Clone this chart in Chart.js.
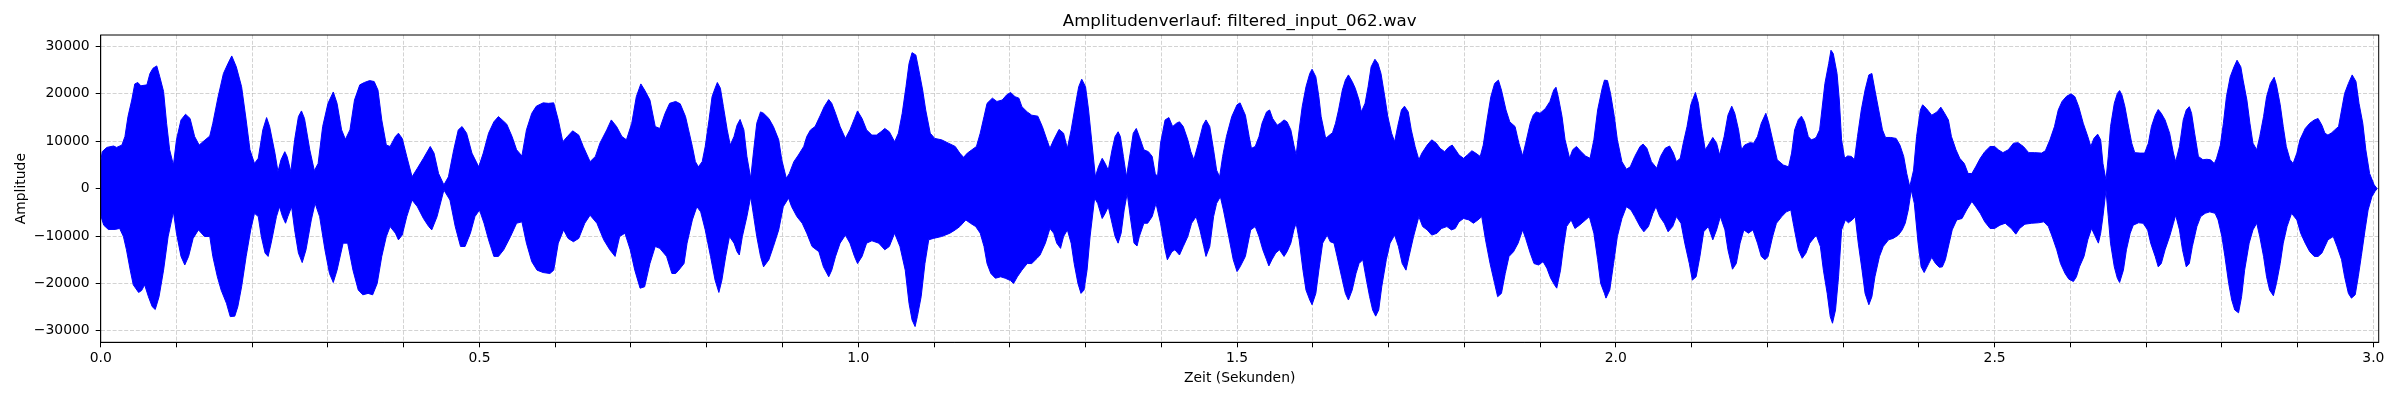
<!DOCTYPE html>
<html>
<head>
<meta charset="utf-8">
<title>Amplitudenverlauf</title>
<script src="https://cdn.jsdelivr.net/npm/chart.js@4.4.0/dist/chart.umd.min.js"></script>
<style>
    html, body { margin: 0; padding: 0; background: #fff; }
    canvas { display: block; }
</style>
</head>
<body>
<canvas id="waveChart" width="2400" height="400"></canvas>
<script>
// Hüllkurve des Signals (Zeit in s, Amplitude)

// obere Hüllkurve
const upperTimes = [
    0.000, 0.002, 0.008, 0.017, 0.021, 0.028, 0.032, 0.036, 0.041, 0.045, 0.049, 0.053, 0.061, 0.065, 0.069, 0.074, 0.078, 0.083, 0.087, 0.091,
    0.096, 0.100, 0.106, 0.112, 0.118, 0.124, 0.130, 0.135, 0.144, 0.148, 0.155, 0.162, 0.168, 0.173, 0.179, 0.186, 0.192, 0.197, 0.203, 0.208,
    0.214, 0.219, 0.223, 0.230, 0.234, 0.238, 0.243, 0.246, 0.251, 0.256, 0.261, 0.265, 0.269, 0.276, 0.282, 0.287, 0.293, 0.300, 0.307, 0.312,
    0.318, 0.323, 0.329, 0.335, 0.342, 0.348, 0.355, 0.361, 0.366, 0.371, 0.377,
    0.382, 0.389, 0.393, 0.398, 0.404, 0.411, 0.418, 0.426, 0.435, 0.440, 0.446, 0.453, 0.459, 0.466, 0.472, 0.477, 0.483, 0.490, 0.499, 0.505,
    0.512, 0.519, 0.525, 0.530, 0.536, 0.543, 0.549, 0.556, 0.562, 0.569, 0.575, 0.584, 0.591, 0.598, 0.604, 0.610, 0.616, 0.623, 0.631, 0.637,
    0.646, 0.653, 0.659, 0.668, 0.674, 0.681, 0.688, 0.694, 0.701, 0.707, 0.713, 0.718, 0.725, 0.732, 0.738, 0.745, 0.751,
    0.759, 0.765, 0.772, 0.776, 0.781, 0.785, 0.789, 0.794, 0.798, 0.803, 0.807, 0.811, 0.814, 0.818, 0.822, 0.827, 0.831, 0.836, 0.840, 0.844,
    0.849, 0.853, 0.858, 0.862, 0.866, 0.871, 0.875, 0.882, 0.888, 0.895, 0.899, 0.905, 0.909, 0.915, 0.921, 0.928, 0.932, 0.937, 0.943, 0.950,
    0.955, 0.961, 0.965, 0.970, 0.976, 0.983, 0.989, 0.995, 0.999, 1.005, 1.011, 1.018, 1.024, 1.030, 1.035, 1.041, 1.048, 1.053, 1.058, 1.063,
    1.067, 1.071, 1.076, 1.080, 1.085, 1.089, 1.095, 1.101, 1.110, 1.119, 1.128, 1.134,
    1.139, 1.144, 1.150, 1.156, 1.161, 1.166, 1.170, 1.177, 1.183, 1.190, 1.196, 1.201, 1.207, 1.212, 1.216, 1.223, 1.229, 1.237, 1.243, 1.249,
    1.253, 1.258, 1.265, 1.271, 1.276, 1.281, 1.287, 1.291, 1.295, 1.300, 1.304, 1.308, 1.313, 1.317, 1.322, 1.326, 1.330, 1.335, 1.339, 1.343,
    1.346, 1.350, 1.354, 1.359, 1.363, 1.367, 1.371, 1.377, 1.383, 1.388, 1.392, 1.395, 1.399, 1.405, 1.410, 1.415, 1.420, 1.424, 1.429, 1.435,
    1.439, 1.443, 1.449, 1.455, 1.459, 1.464, 1.469, 1.473, 1.477, 1.481, 1.486, 1.493, 1.500, 1.504, 1.508, 1.511,
    1.516, 1.519, 1.524, 1.529, 1.533, 1.539, 1.543, 1.547, 1.553, 1.557, 1.562, 1.566, 1.571, 1.575, 1.578, 1.582, 1.586, 1.591, 1.596, 1.599,
    1.604, 1.608, 1.611, 1.617, 1.622, 1.626, 1.630, 1.634, 1.639, 1.643, 1.647, 1.652, 1.656, 1.661, 1.664, 1.669, 1.673, 1.677, 1.682, 1.686,
    1.690, 1.695, 1.699, 1.704, 1.708, 1.712, 1.717, 1.721, 1.726, 1.730, 1.735, 1.740, 1.744, 1.751, 1.757, 1.763, 1.768, 1.774, 1.779, 1.784,
    1.788, 1.793, 1.799, 1.804, 1.810, 1.815, 1.821, 1.825, 1.830, 1.835, 1.840, 1.845, 1.849, 1.855, 1.860, 1.867, 1.872, 1.877, 1.881, 1.887,
    1.891, 1.895, 1.900, 1.907, 1.913, 1.918, 1.921, 1.924, 1.929, 1.933, 1.939, 1.943, 1.948, 1.953, 1.960, 1.966, 1.971, 1.976, 1.982, 1.985,
    1.989, 1.993, 1.998, 2.002, 2.008, 2.014, 2.019, 2.025, 2.032, 2.036, 2.041, 2.047, 2.054, 2.059, 2.065, 2.071, 2.076, 2.080, 2.085, 2.089,
    2.094, 2.099, 2.105, 2.109, 2.113, 2.118, 2.122, 2.128, 2.133, 2.137, 2.143, 2.148, 2.153, 2.157, 2.162, 2.166, 2.170, 2.177, 2.182, 2.187,
    2.192, 2.198, 2.202, 2.208, 2.213, 2.221, 2.228, 2.232, 2.236, 2.241, 2.245, 2.249, 2.254, 2.258, 2.263,
    2.265, 2.269, 2.272, 2.276, 2.281, 2.284, 2.287, 2.292, 2.295, 2.298, 2.302, 2.306, 2.311, 2.315, 2.319, 2.324, 2.329, 2.334, 2.338, 2.342,
    2.347, 2.352, 2.356, 2.363, 2.370, 2.375, 2.380, 2.384, 2.388, 2.393, 2.397, 2.402, 2.405, 2.410, 2.417, 2.424, 2.429, 2.434, 2.439, 2.443,
    2.449, 2.454, 2.460, 2.465, 2.470, 2.475, 2.481, 2.487, 2.494, 2.500, 2.505, 2.511, 2.518, 2.525, 2.531, 2.538, 2.545, 2.553, 2.562, 2.567,
    2.573, 2.579, 2.584, 2.589, 2.595, 2.601, 2.606, 2.611, 2.617, 2.623, 2.627, 2.631, 2.636,
    2.640, 2.643, 2.647, 2.650, 2.653, 2.658, 2.662, 2.665, 2.668, 2.672, 2.676, 2.681, 2.685, 2.692, 2.698, 2.703, 2.707, 2.712, 2.716, 2.720,
    2.725, 2.731, 2.736, 2.739, 2.744, 2.749, 2.753, 2.757, 2.760, 2.764, 2.769, 2.775, 2.780, 2.785, 2.790, 2.793, 2.798, 2.802, 2.806, 2.811,
    2.816, 2.820, 2.825, 2.828, 2.833, 2.837, 2.841, 2.846, 2.850, 2.855, 2.859, 2.864, 2.869, 2.872, 2.877, 2.881, 2.885, 2.890, 2.894, 2.899,
    2.903, 2.910, 2.916, 2.922, 2.927, 2.932, 2.936, 2.940, 2.945, 2.949, 2.954, 2.958, 2.962, 2.967, 2.972, 2.977, 2.981, 2.986, 2.990, 2.995,
    3.001, 3.005
];
const upperValues = [
    5700, 7800, 8700, 9000, 8700, 9200, 11000, 15200, 18700, 22100, 22400, 21700, 21900, 24300, 25400, 25900, 23600, 20500, 13800, 8200,
    5000, 10300, 14500, 15700, 14800, 11000, 9200, 9900, 11100, 13800, 19400, 24300, 26400, 28000, 25700, 21500, 14500, 8200, 5300, 6400,
    12400, 15000, 13100, 7500, 3600, 6100, 7800, 6800, 3600, 10300, 15200, 16400, 14800, 8200, 3800, 5300, 13100, 18000, 20400, 18000,
    12400, 10400, 12400, 18700, 21900, 22400, 22800, 22600, 20800, 14500, 9200,
    8900, 11000, 11700, 10600, 6800, 2500, 4300, 6400, 8900, 7500, 3200, 800, 2500, 8200, 12400, 13100, 11700, 7500, 4600, 7500,
    11700, 14100, 15200, 14500, 13600, 11000, 8200, 6900, 12400, 15900, 17400, 18100, 18000, 18100, 14500, 9900, 11000, 12200, 11300, 8900,
    5700, 6800, 9600, 12400, 14500, 13100, 11000, 10300, 13800, 19400, 22100, 20800, 18700, 13100, 12700, 15900, 18000,
    18400, 17900, 15200, 12400, 8900, 5700, 4600, 5700, 8900, 14500, 19400, 21200, 22400, 21200, 17300, 12400, 9200, 11000, 13400, 14600,
    12400, 6800, 2200, 8200, 13800, 16200, 15900, 14800, 13100, 10300, 6100, 2200, 3200, 5700, 7100, 8900, 11000, 12400, 13100, 15500,
    17300, 18800, 18000, 15900, 13100, 10600, 12400, 14800, 16400, 14800, 12400, 11300, 11300, 12000, 12700, 12000, 9900, 11700, 15900, 21500,
    26400, 28700, 28200, 25000, 20800, 16600, 11700, 10600, 10300, 9600, 8900, 7500,
    6600, 7500, 8200, 8900, 11700, 15200, 18000, 19100, 18400, 18700, 19800, 20300, 19400, 19100, 17300, 16200, 15500, 15300, 13100, 10300,
    8500, 10300, 12500, 11700, 8500, 12400, 18000, 21500, 23100, 21500, 16600, 10300, 2500, 4600, 6400, 5300, 3900, 8200, 11000, 12000,
    11000, 6800, 2500, 7500, 11700, 12700, 11000, 8200, 7800, 6800, 3200, 2500, 9600, 14500, 15000, 13100, 13800, 14100, 13100, 10300,
    7800, 6100, 9600, 13400, 14500, 13100, 8200, 3900, 2500, 6800, 11000, 15200, 17700, 18100, 16600, 15500,
    11000, 8500, 8900, 11000, 13800, 16200, 16600, 14800, 13400, 13800, 14500, 14100, 12400, 9200, 7100, 12400, 17300, 21500, 24300, 25200,
    23600, 19400, 15200, 10600, 11300, 11800, 13800, 16600, 20800, 22900, 24000, 22600, 21200, 18700, 16200, 18000, 21500, 25700, 27300, 26400,
    24300, 19400, 15200, 11700, 9900, 13100, 16600, 17400, 16200, 12400, 8900, 6100, 7500, 9200, 10300, 9600, 8500, 7800, 8700, 9200,
    8300, 7100, 6400, 7100, 8000, 7500, 6800, 9200, 14500, 19400, 22200, 22900, 20800, 16600, 14100, 13100, 9600, 6900, 9600, 13800,
    15500, 16200, 15900, 16900, 18400, 20800, 21400, 19400, 15200, 10300, 6400, 8200, 8900, 8000, 6900, 6400, 10300, 16600, 21200, 22900,
    22800, 20100, 15200, 10300, 5700, 4100, 4600, 6800, 8900, 9400, 8500, 5700, 4300, 6800, 8500, 9000, 7500, 5700, 6400, 9600,
    13100, 17700, 20300, 18000, 13100, 8200, 9200, 10800, 9600, 7100, 11000, 15500, 17400, 15900, 12400, 8200, 9200, 9700, 9600, 11000,
    13800, 15900, 13800, 9600, 6100, 5000, 4600, 7500, 12400, 14600, 15300, 14100, 11000, 10300, 10600,
    11000, 12400, 16600, 22200, 26400, 29200, 28500, 24300, 18700, 10300, 6400, 6900, 6800, 6100, 11000, 16600, 20800, 24000, 24300, 20800,
    16600, 12400, 10800, 10800, 10600, 9200, 6800, 3200, 400, 3900, 11000, 16600, 17700, 16900, 15500, 16200, 17200, 15900, 14500, 11000,
    8200, 6400, 5300, 3200, 3200, 4600, 6400, 7800, 8900, 8900, 8200, 7600, 8200, 9600, 9700, 8900, 7600, 7600, 7500, 8000,
    10300, 13100, 16600, 18400, 19500, 20000, 19400, 17300, 13800, 11000, 8900, 10600, 11500,
    10300, 5300, 1800, 6800, 13100, 18000, 20100, 20700, 19800, 17300, 13800, 9600, 7600, 7500, 7500, 9600, 13100, 15500, 16700, 15900,
    14500, 11700, 7500, 5700, 8900, 14500, 16600, 17300, 15900, 11700, 6800, 6100, 6200, 6100, 5300, 6400, 9200, 13800, 19400, 23600,
    25700, 27100, 25700, 22900, 18700, 13800, 9600, 8200, 11000, 15200, 19400, 22200, 23500, 21900, 17700, 13100, 8900, 6100, 5300, 7500,
    10300, 12700, 13800, 14500, 14800, 13400, 11700, 11300, 11800, 12400, 13100, 16600, 20100, 22200, 24000, 22600, 18000, 13800, 8200, 3200,
    800, 0
];

// untere Hüllkurve
const lowerTimes = [
    0.000, 0.004, 0.010, 0.019, 0.025, 0.030, 0.034, 0.039, 0.043, 0.050, 0.054, 0.058, 0.063, 0.068, 0.072, 0.077, 0.083, 0.089, 0.096, 0.100,
    0.106, 0.111, 0.116, 0.122, 0.129, 0.137, 0.144, 0.148, 0.154, 0.159, 0.166, 0.171, 0.177, 0.181, 0.186, 0.192, 0.198, 0.203, 0.208, 0.212,
    0.217, 0.221, 0.225, 0.232, 0.236, 0.240, 0.244, 0.247, 0.252, 0.256, 0.261, 0.266, 0.271, 0.278, 0.283, 0.289, 0.296, 0.302, 0.307, 0.312,
    0.320, 0.326, 0.333, 0.340, 0.346, 0.353, 0.359, 0.365, 0.371, 0.377,
    0.382, 0.389, 0.393, 0.398, 0.404, 0.411, 0.418, 0.426, 0.433, 0.437, 0.444, 0.453, 0.461, 0.468, 0.475, 0.481, 0.488, 0.494, 0.500, 0.506,
    0.512, 0.519, 0.525, 0.532, 0.541, 0.549, 0.556, 0.562, 0.569, 0.576, 0.584, 0.593, 0.598, 0.604, 0.611, 0.617, 0.624, 0.631, 0.639, 0.646,
    0.655, 0.664, 0.672, 0.679, 0.685, 0.692, 0.699, 0.705, 0.712, 0.718, 0.725, 0.732, 0.738, 0.747, 0.754,
    0.759, 0.763, 0.770, 0.774, 0.781, 0.787, 0.792, 0.798, 0.805, 0.811, 0.816, 0.820, 0.825, 0.830, 0.836, 0.840, 0.843, 0.847, 0.853, 0.858,
    0.862, 0.866, 0.871, 0.875, 0.882, 0.888, 0.895, 0.901, 0.908, 0.912, 0.919, 0.926, 0.932, 0.939, 0.948, 0.954, 0.961, 0.965, 0.970, 0.976,
    0.983, 0.989, 0.995, 0.999, 1.005, 1.011, 1.018, 1.027, 1.035, 1.041, 1.048, 1.055, 1.062, 1.067, 1.071, 1.075, 1.078, 1.083, 1.088, 1.093,
    1.099, 1.110, 1.121, 1.128, 1.134,
    1.142, 1.148, 1.155, 1.161, 1.166, 1.170, 1.175, 1.181, 1.188, 1.194, 1.201, 1.205, 1.210, 1.216, 1.223, 1.229, 1.236, 1.240, 1.247, 1.253,
    1.258, 1.262, 1.267, 1.271, 1.276, 1.281, 1.285, 1.290, 1.294, 1.298, 1.302, 1.306, 1.312, 1.316, 1.322, 1.326, 1.330, 1.335, 1.339, 1.343,
    1.347, 1.351, 1.355, 1.359, 1.364, 1.368, 1.371, 1.377, 1.382, 1.388, 1.393, 1.399, 1.405, 1.408, 1.414, 1.418, 1.424, 1.429, 1.435, 1.440,
    1.446, 1.451, 1.456, 1.459, 1.464, 1.469, 1.473, 1.478, 1.482, 1.489, 1.495, 1.500, 1.504, 1.511,
    1.518, 1.524, 1.529, 1.534, 1.539, 1.542, 1.546, 1.551, 1.556, 1.562, 1.566, 1.571, 1.575, 1.578, 1.582, 1.587, 1.591, 1.596, 1.599, 1.604,
    1.608, 1.613, 1.619, 1.623, 1.628, 1.632, 1.638, 1.643, 1.647, 1.652, 1.657, 1.661, 1.666, 1.670, 1.675, 1.679, 1.683, 1.687, 1.691, 1.697,
    1.702, 1.708, 1.713, 1.718, 1.723, 1.727, 1.733, 1.740, 1.745, 1.751, 1.757, 1.764, 1.770, 1.777, 1.783, 1.788, 1.793, 1.799, 1.806, 1.812,
    1.818, 1.823, 1.828, 1.834, 1.840, 1.844, 1.849, 1.854, 1.859, 1.865, 1.871, 1.877, 1.881, 1.887,
    1.892, 1.898, 1.904, 1.909, 1.914, 1.919, 1.922, 1.927, 1.931, 1.935, 1.941, 1.946, 1.952, 1.960, 1.965, 1.971, 1.976, 1.980, 1.985, 1.987,
    1.992, 1.997, 2.002, 2.008, 2.014, 2.020, 2.025, 2.032, 2.037, 2.043, 2.049, 2.053, 2.058, 2.064, 2.069, 2.075, 2.080, 2.086, 2.091, 2.097,
    2.101, 2.106, 2.111, 2.116, 2.122, 2.128, 2.133, 2.138, 2.144, 2.148, 2.154, 2.159, 2.164, 2.169, 2.175, 2.181, 2.187, 2.192, 2.197, 2.201,
    2.207, 2.212, 2.219, 2.225, 2.231, 2.235, 2.241, 2.246, 2.251, 2.256, 2.263,
    2.265, 2.270, 2.274, 2.279, 2.283, 2.286, 2.290, 2.294, 2.298, 2.303, 2.307, 2.312, 2.316, 2.320, 2.325, 2.329, 2.334, 2.338, 2.342, 2.348,
    2.353, 2.360, 2.366, 2.373, 2.378, 2.382, 2.386, 2.390, 2.394, 2.399, 2.403, 2.407, 2.413, 2.417, 2.422, 2.427, 2.431, 2.435, 2.440, 2.444,
    2.450, 2.457, 2.463, 2.470, 2.475, 2.481, 2.487, 2.494, 2.500, 2.507, 2.514, 2.522, 2.528, 2.533, 2.540, 2.549, 2.558, 2.565, 2.571, 2.576,
    2.582, 2.587, 2.593, 2.598, 2.604, 2.608, 2.612, 2.618, 2.623, 2.628, 2.632, 2.637,
    2.640, 2.643, 2.647, 2.650, 2.653, 2.658, 2.662, 2.665, 2.670, 2.674, 2.679, 2.683, 2.690, 2.696, 2.702, 2.706, 2.712, 2.716, 2.720, 2.725,
    2.731, 2.736, 2.739, 2.744, 2.748, 2.753, 2.757, 2.761, 2.767, 2.772, 2.778, 2.784, 2.791, 2.795, 2.800, 2.804, 2.809, 2.813, 2.817, 2.822,
    2.826, 2.830, 2.836, 2.841, 2.846, 2.850, 2.855, 2.859, 2.863, 2.868, 2.872, 2.877, 2.881, 2.886, 2.892, 2.899, 2.904, 2.910, 2.916, 2.922,
    2.927, 2.932, 2.936, 2.940, 2.947, 2.952, 2.958, 2.962, 2.967, 2.971, 2.976, 2.980, 2.984, 2.989, 2.993, 2.998, 3.002, 3.005
];
const lowerValues = [
    -5600, -7700, -8600, -8600, -8400, -10100, -12900, -17200, -20300, -21900, -21500, -20300, -22800, -24900, -25500, -22800, -17200, -10100, -4900, -9400,
    -14300, -16100, -14300, -10500, -8700, -10100, -10100, -14300, -18600, -21400, -24200, -27000, -26900, -24900, -20700, -14300, -8700, -5200, -5900, -10100,
    -13600, -14300, -11500, -5900, -3800, -5900, -7300, -5900, -3800, -8700, -13600, -15600, -12900, -6600, -3100, -5900, -12900, -17900, -19800, -17200,
    -11500, -11500, -17200, -21400, -22400, -22100, -22400, -20000, -14300, -10100,
    -8000, -9400, -10800, -9800, -5900, -2400, -3800, -6300, -8000, -8700, -5900, -300, -2400, -8000, -12200, -12200, -9400, -5900, -4500, -7300,
    -10800, -14300, -14300, -12900, -10100, -7300, -7000, -11500, -15400, -17200, -17700, -17900, -17200, -11500, -8700, -10500, -11200, -10500, -7300, -5600,
    -7300, -10800, -12900, -14300, -10100, -9400, -12900, -17200, -21000, -20700, -15800, -12200, -12600, -14300, -17900,
    -17900, -17200, -15800, -11500, -6600, -3800, -4900, -8700, -14300, -19300, -21900, -19300, -14300, -10100, -11500, -13300, -14000, -10100, -5900, -1700,
    -5900, -10100, -14300, -16500, -15000, -12200, -8700, -3800, -2000, -3800, -5900, -7300, -9400, -12200, -13300, -16500, -18600, -17200, -14300, -11500,
    -9800, -11500, -14300, -15800, -14300, -11500, -11000, -11500, -12900, -12200, -9400, -12200, -17200, -24200, -27700, -29100, -27000, -22800, -15800, -10800,
    -10500, -10100, -9400, -8700, -8000,
    -6600, -7300, -8000, -9400, -12200, -15800, -17900, -18900, -18600, -18900, -19400, -20000, -18600, -17200, -15800, -15800, -14700, -14000, -11500, -8400,
    -9400, -11500, -12600, -10100, -8700, -11500, -15800, -20000, -22100, -21400, -17200, -10100, -2000, -3100, -6300, -5200, -3800, -7300, -10100, -11500,
    -9400, -4500, -1000, -5900, -11500, -12100, -10100, -7300, -7300, -5900, -3100, -7300, -12900, -15000, -13300, -12900, -14000, -12200, -10100, -7300,
    -5900, -8700, -12200, -14300, -12200, -5900, -3100, -1700, -4500, -10100, -15000, -17500, -16500, -14300,
    -8700, -8000, -10100, -12900, -15000, -16300, -15000, -13600, -12900, -14300, -13300, -11500, -8700, -7300, -10800, -17200, -21400, -23500, -24500, -22100,
    -17200, -11500, -9800, -11200, -11500, -14300, -18600, -22100, -23500, -21400, -17900, -15800, -15000, -18600, -22800, -25600, -26900, -25600, -20700, -15000,
    -11500, -9800, -12200, -15800, -17200, -14300, -10100, -5900, -8000, -8700, -9800, -9400, -8400, -8000, -8700, -8400, -7000, -6300, -6600, -7300,
    -6600, -5900, -10800, -15800, -20000, -22800, -22100, -17900, -14300, -13300, -11500, -8700, -10500, -13600,
    -15800, -16100, -15400, -16800, -18900, -20300, -21000, -17200, -12200, -8000, -6600, -8400, -7700, -6600, -5900, -9400, -15000, -20000, -22100, -23100,
    -21400, -15800, -10100, -6300, -3800, -4500, -5900, -8000, -9100, -8000, -5200, -3800, -5900, -7300, -9100, -8000, -5900, -7300, -11500, -15800,
    -19300, -18600, -14300, -9100, -8000, -10800, -8700, -5900, -8700, -12900, -17000, -15800, -11500, -8700, -9400, -8700, -11500, -14300, -15000, -14300,
    -10100, -7300, -5900, -4900, -4500, -8000, -12900, -14700, -13600, -11500, -10100,
    -10000, -12200, -17200, -22100, -27000, -28400, -25600, -18600, -8700, -6600, -7200, -6600, -5900, -11500, -17200, -22100, -24500, -22800, -18600, -14300,
    -12200, -10800, -10500, -9800, -8700, -7300, -4500, -300, -3100, -11500, -16500, -17700, -15800, -14500, -15800, -16600, -16500, -15000, -11500, -8700,
    -6600, -6300, -4500, -2700, -3800, -5200, -7000, -8400, -8400, -7700, -7300, -8400, -9600, -8400, -7500, -7300, -7200, -7000, -8000, -10100,
    -12900, -15800, -17900, -19100, -19600, -18600, -16500, -14300, -10800, -8400, -9800, -11500,
    -9400, -5900, -300, -5900, -11500, -16500, -18900, -19800, -17200, -12900, -9400, -7700, -7200, -7300, -8700, -11500, -14300, -16500, -15800, -12900,
    -10100, -7300, -5600, -8700, -12900, -16500, -15800, -12200, -8000, -5900, -5200, -4900, -5200, -6600, -10100, -14300, -20000, -23500, -25600, -26200,
    -22800, -17200, -11500, -8700, -7300, -10100, -14300, -18600, -21400, -22600, -20000, -15800, -11500, -8000, -5200, -6600, -9400, -11500, -13300, -14300,
    -14300, -13600, -12200, -10800, -10100, -12200, -15000, -18600, -22100, -23100, -22400, -18600, -14300, -8700, -4500, -1700, -600, 0
];

// Achsen
const timeMax = 3.007;
const ampLimit = 32420;
const yTickValues = [-30000, -20000, -10000, 0, 10000, 20000, 30000];
const xTickStep = 0.1;
const xLabelStep = 0.5;

const chartTitle = 'Amplitudenverlauf: filtered_input_062.wav';
const xAxisTitle = 'Zeit (Sekunden)';
const yAxisTitle = 'Amplitude';

const waveColor = '#0000ff';
const gridColor = 'rgba(176, 176, 176, 0.7)';

Chart.defaults.font.family = "'DejaVu Sans', sans-serif";
Chart.defaults.color = '#000';

const upperPoints = upperTimes.map((t, i) => ({ x: t, y: upperValues[i] }));
const lowerPoints = lowerTimes.map((t, i) => ({ x: t, y: lowerValues[i] }));

// Rahmen rund um die Zeichenfläche (wie die Spines in matplotlib)
const framePlugin = {
    id: 'frame',
    afterDraw(chart) {
        const { ctx, chartArea } = chart;
        ctx.save();
        ctx.strokeStyle = '#000';
        ctx.lineWidth = 1;
        ctx.strokeRect(chartArea.left, chartArea.top,
            chartArea.right - chartArea.left, chartArea.bottom - chartArea.top);
        ctx.restore();
    }
};

const waveChart = new Chart(document.getElementById('waveChart'), {
    type: 'line',
    data: {
        datasets: [
            {
                label: 'oben',
                data: upperPoints,
                borderColor: waveColor,
                backgroundColor: waveColor,
                borderWidth: 1,
                pointRadius: 0,
                tension: 0,
                fill: false
            },
            {
                // Fläche zwischen unterer und oberer Hüllkurve
                label: 'unten',
                data: lowerPoints,
                borderColor: waveColor,
                backgroundColor: waveColor,
                borderWidth: 1,
                pointRadius: 0,
                tension: 0,
                fill: '-1'
            }
        ]
    },
    options: {
        responsive: false,
        devicePixelRatio: 1,
        animation: false,
        layout: {
            padding: { left: 0, right: 21.3, top: 0, bottom: 0 }
        },
        plugins: {
            legend: { display: false },
            tooltip: { enabled: false },
            title: {
                display: true,
                text: chartTitle,
                fullSize: false,
                color: '#000',
                font: { size: 16.67, weight: 'normal' },
                padding: { top: 11.7, bottom: 3.3 }
            }
        },
        scales: {
            x: {
                type: 'linear',
                min: 0,
                max: timeMax,
                afterFit(scale) {
                    scale.height = 57.7;
                },
                ticks: {
                    stepSize: xTickStep,
                    includeBounds: false,
                    autoSkip: false,
                    maxRotation: 0,
                    padding: 2.4,
                    font: { size: 13.9 },
                    color: '#000',
                    callback: (value) => {
                        const r = value / xLabelStep;
                        return Math.abs(r - Math.round(r)) < 1e-6 ? value.toFixed(1) : '';
                    }
                },
                grid: {
                    color: gridColor,
                    lineWidth: 0.8,
                    tickLength: 5,
                    tickColor: '#000',
                    tickWidth: 1
                },
                border: { display: true, color: '#000', width: 1, dash: [4, 1.8] },
                title: {
                    display: true,
                    text: xAxisTitle,
                    color: '#000',
                    font: { size: 13.9 },
                    padding: { top: 0, bottom: 13.7 }
                }
            },
            y: {
                min: -ampLimit,
                max: ampLimit,
                afterFit(scale) {
                    scale.width = 100.7;
                },
                afterBuildTicks(scale) {
                    scale.ticks = yTickValues.map((v) => ({ value: v }));
                },
                ticks: {
                    autoSkip: false,
                    padding: 6,
                    font: { size: 13.9 },
                    color: '#000',
                    callback: (value) => String(value).replace('-', '\u2212')
                },
                grid: {
                    color: gridColor,
                    lineWidth: 0.8,
                    tickLength: 5,
                    tickColor: '#000',
                    tickWidth: 1
                },
                border: { display: true, color: '#000', width: 1, dash: [4, 1.8] },
                title: {
                    display: true,
                    text: yAxisTitle,
                    color: '#000',
                    font: { size: 13.9 },
                    padding: { top: 12.7, bottom: 0 }
                }
            }
        }
    },
    plugins: [framePlugin]
});
</script>
</body>
</html>
